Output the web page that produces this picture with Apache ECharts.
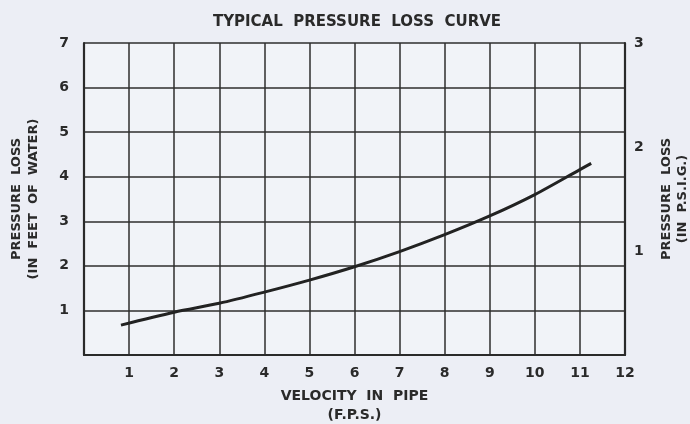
<!DOCTYPE html>
<html>
<head>
<meta charset="utf-8">
<script src="https://cdn.jsdelivr.net/npm/echarts@6/dist/echarts.min.js"></script>
<style>
  html, body { margin: 0; padding: 0; background: #eceef5; }
  #chart { width: 690px; height: 424px; }
</style>
</head>
<body>
<div id="chart"></div>
<script>
// velocity (f.p.s.) vs pressure loss (ft of water)
const velocity = [0.82, 2, 3, 4, 5, 6, 7, 8, 9, 10, 11, 11.25]
const lossFeet = [0.67, 0.96, 1.16, 1.41, 1.68, 1.98, 2.32, 2.7, 3.12, 3.6, 4.16, 4.3]

const ink = '#2a2a2a'
const font = 'DejaVu Sans'
const txt = (size, extra) => ({ color: ink, fontSize: size, fontWeight: 'bold', fontFamily: font, ...extra })

const chart = echarts.init(document.getElementById('chart'))

const hideZero = (v) => (v === 0 ? '' : String(v))

chart.setOption({
    animation: false,
    backgroundColor: '#eceef5',
    title: {
        text: 'TYPICAL  PRESSURE  LOSS  CURVE',
        left: 352,
        top: 10,
        textAlign: 'center',
        textStyle: txt(15),
    },
    grid: {
        left: 84, right: 65, top: 43, bottom: 69,
        outerBoundsMode: 'none',
        show: true, borderWidth: 0, backgroundColor: '#f1f3f8',
    },
    xAxis: {
        type: 'value',
        min: 0,
        max: 12,
        interval: 1,
        name: 'VELOCITY  IN  PIPE\n(F.P.S.)',
        nameLocation: 'middle',
        nameGap: 32,
        nameTextStyle: txt(14, { lineHeight: 19 }),
        axisLine: { show: true, lineStyle: { color: ink, width: 2.2 } },
        axisTick: { show: false },
        axisLabel: { ...txt(14), margin: 11, formatter: hideZero },
        splitLine: { show: true, lineStyle: { color: '#2e2e2e', width: 1.5 } },
    },
    yAxis: [
        {
            type: 'value',
            min: 0,
            max: 7,
            interval: 1,
            name: 'PRESSURE  LOSS\n(IN  FEET  OF  WATER)',
            nameLocation: 'middle',
            nameRotate: 90,
            nameGap: 42,
            nameTextStyle: txt(13, { lineHeight: 17 }),
            axisLine: { show: true, lineStyle: { color: ink, width: 2.2 } },
            axisTick: { show: false },
            axisLabel: { ...txt(14), margin: 15, formatter: hideZero },
            splitLine: { show: true, lineStyle: { color: '#2e2e2e', width: 1.5 } },
        },
        {
            type: 'value',
            position: 'right',
            min: 0,
            max: 3,
            interval: 1,
            name: 'PRESSURE  LOSS\n(IN  P.S.I.G.)',
            nameLocation: 'middle',
            nameRotate: 90,
            nameGap: 34,
            nameTextStyle: txt(13, { lineHeight: 16 }),
            axisLine: { show: true, lineStyle: { color: ink, width: 2.2 } },
            axisTick: { show: false },
            axisLabel: { ...txt(14), margin: 9, formatter: hideZero },
            splitLine: { show: false },
        },
    ],
    series: [
        {
            type: 'line',
            data: velocity.map((v, i) => [v, lossFeet[i]]),
            smooth: 0.3,
            showSymbol: false,
            lineStyle: { color: '#222', width: 3 },
        },
    ],
})
</script>
</body>
</html>
